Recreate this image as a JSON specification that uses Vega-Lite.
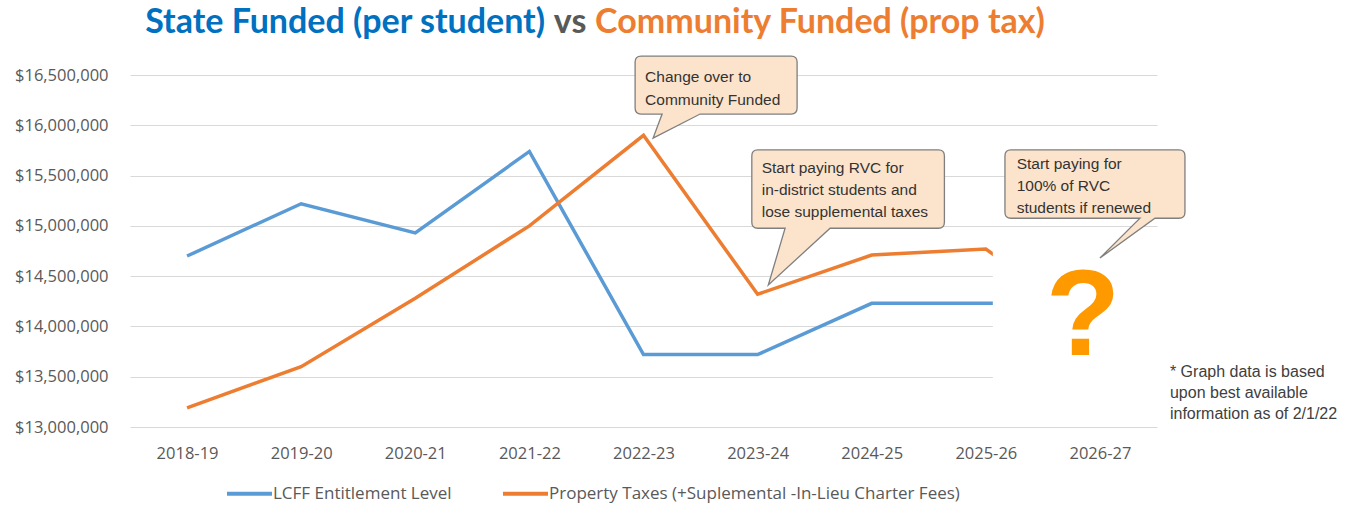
{
  "$schema": "https://vega.github.io/schema/vega-lite/v6.json",
  "width": 1027,
  "height": 352,
  "autosize": {"type": "none"},
  "padding": {"left": 130, "top": 75, "right": 196, "bottom": 79},
  "background": "white",
  "config": {"view": {"stroke": null}, "font": "Open Sans"},
  "layer": [
    {
      "data": {"values": [
        {"year": "2018-19", "series": "LCFF Entitlement Level", "value": 14700000},
        {"year": "2019-20", "series": "LCFF Entitlement Level", "value": 15220000},
        {"year": "2020-21", "series": "LCFF Entitlement Level", "value": 14930000},
        {"year": "2021-22", "series": "LCFF Entitlement Level", "value": 15740000},
        {"year": "2022-23", "series": "LCFF Entitlement Level", "value": 13720000},
        {"year": "2023-24", "series": "LCFF Entitlement Level", "value": 13720000},
        {"year": "2024-25", "series": "LCFF Entitlement Level", "value": 14230000},
        {"year": "2025-26", "series": "LCFF Entitlement Level", "value": 14230000},
        {"year": "2026-27", "series": "LCFF Entitlement Level", "value": 14230000},
        {"year": "2018-19", "series": "Property Taxes (+Suplemental -In-Lieu Charter Fees)", "value": 13190000},
        {"year": "2019-20", "series": "Property Taxes (+Suplemental -In-Lieu Charter Fees)", "value": 13600000},
        {"year": "2020-21", "series": "Property Taxes (+Suplemental -In-Lieu Charter Fees)", "value": 14280000},
        {"year": "2021-22", "series": "Property Taxes (+Suplemental -In-Lieu Charter Fees)", "value": 15000000},
        {"year": "2022-23", "series": "Property Taxes (+Suplemental -In-Lieu Charter Fees)", "value": 15900000},
        {"year": "2023-24", "series": "Property Taxes (+Suplemental -In-Lieu Charter Fees)", "value": 14320000},
        {"year": "2024-25", "series": "Property Taxes (+Suplemental -In-Lieu Charter Fees)", "value": 14710000},
        {"year": "2025-26", "series": "Property Taxes (+Suplemental -In-Lieu Charter Fees)", "value": 14770000},
        {"year": "2026-27", "series": "Property Taxes (+Suplemental -In-Lieu Charter Fees)", "value": 13950000}
      ]},
      "mark": {"type": "line", "strokeWidth": 3.5, "strokeJoin": "miter"},
      "encoding": {
        "x": {
          "field": "year", "type": "ordinal",
          "scale": {"type": "point", "padding": 0.5, "domain": ["2018-19","2019-20","2020-21","2021-22","2022-23","2023-24","2024-25","2025-26","2026-27"]},
          "axis": {"title": null, "domain": false, "ticks": false, "grid": false, "labelAngle": 0, "labelFont": "Open Sans", "labelFontSize": 16.5, "labelColor": "#595959", "labelPadding": 18}
        },
        "y": {
          "field": "value", "type": "quantitative",
          "scale": {"domain": [13000000, 16500000], "zero": false, "nice": false},
          "axis": {"title": null, "values": [13000000,13500000,14000000,14500000,15000000,15500000,16000000,16500000], "format": "$,.0f", "domain": false, "ticks": false, "grid": true, "gridColor": "#D9D9D9", "gridWidth": 1.2, "labelFont": "Open Sans", "labelFontSize": 16.5, "labelColor": "#595959", "labelPadding": 22}
        },
        "color": {
          "field": "series", "type": "nominal",
          "scale": {"domain": ["LCFF Entitlement Level", "Property Taxes (+Suplemental -In-Lieu Charter Fees)"], "range": ["#5B9BD5", "#ED7D31"]},
          "legend": {"title": null, "orient": "none", "legendX": 95, "legendY": 394, "direction": "horizontal", "symbolType": "stroke", "symbolSize": 2025, "symbolStrokeWidth": 4, "labelFont": "Open Sans", "labelFontSize": 17, "labelColor": "#595959", "labelOffset": -1, "columnPadding": 43, "labelLimit": 600, "padding": 0}
        }
      }
    },
    {
      "data": {"values": [{}]},
      "mark": {"type": "rect", "fill": "white", "xOffset": 7, "x2Offset": 62},
      "encoding": {
        "x": {"datum": "2025-26", "type": "ordinal"},
        "x2": {"datum": "2026-27"},
        "y": {"datum": 14950000, "type": "quantitative"},
        "y2": {"datum": 13280000}
      }
    },
    {
      "data": {"values": [
        {"year": "2022-23", "value": 15900000, "id": "c1"},
        {"year": "2023-24", "value": 14320000, "id": "c2"},
        {"year": "2026-27", "value": 14680000, "id": "c3"}
      ]},
      "mark": {"type": "point", "size": 4, "filled": true, "fill": "#FCE4CC", "stroke": "#7F7F7F", "strokeWidth": 1.3, "opacity": 1},
      "encoding": {
        "x": {"field": "year", "type": "ordinal"},
        "y": {"field": "value", "type": "quantitative"},
        "shape": {
          "field": "id", "type": "nominal", "legend": null,
          "scale": {"domain": ["c1", "c2", "c3"], "range": [
            "M-2.4,-79.3H147.6Q153.6,-79.3,153.6,-73.3V-27.3Q153.6,-21.3,147.6,-21.3H56.6L9.6,2.7L18.6,-21.3H-2.4Q-8.4,-21.3,-8.4,-27.3V-73.3Q-8.4,-79.3,-2.4,-79.3Z",
            "M0.2,-144.3H180.8Q186.8,-144.3,186.8,-138.3V-72Q186.8,-66,180.8,-66H72.5L10.7,-9.3L27.5,-66H0.2Q-5.8,-66,-5.8,-72V-138.3Q-5.8,-144.3,0.2,-144.3Z",
            "M-89,-108.1H79Q85,-108.1,85,-102.1V-45.8Q85,-39.8,79,-39.8H55L0,0L40,-39.8H-89Q-95,-39.8,-95,-45.8V-102.1Q-95,-108.1,-89,-108.1Z"
          ]}
        }
      }
    },
    {
      "data": {"values": [{"year": "2022-23", "value": 15900000, "label": "Change over to\nCommunity Funded"}]},
      "mark": {"type": "text", "align": "left", "baseline": "alphabetic", "dx": 1.6, "dy": -53.8, "lineBreak": "\n", "lineHeight": 23, "font": "Liberation Sans", "fontSize": 15.5, "fill": "#333333"},
      "encoding": {
        "x": {"field": "year", "type": "ordinal"},
        "y": {"field": "value", "type": "quantitative"},
        "text": {"field": "label"}
      }
    },
    {
      "data": {"values": [{"year": "2023-24", "value": 14320000, "label": "Start paying RVC for\nin-district students and\nlose supplemental taxes"}]},
      "mark": {"type": "text", "align": "left", "baseline": "alphabetic", "dx": 4.1, "dy": -121, "lineBreak": "\n", "lineHeight": 21.7, "font": "Liberation Sans", "fontSize": 15.5, "fill": "#333333"},
      "encoding": {
        "x": {"field": "year", "type": "ordinal"},
        "y": {"field": "value", "type": "quantitative"},
        "text": {"field": "label"}
      }
    },
    {
      "data": {"values": [{"year": "2026-27", "value": 14680000, "label": "Start paying for\n100% of RVC\nstudents if renewed"}]},
      "mark": {"type": "text", "align": "left", "baseline": "alphabetic", "dx": -83.3, "dy": -88.8, "lineBreak": "\n", "lineHeight": 21.7, "font": "Liberation Sans", "fontSize": 15.5, "fill": "#333333"},
      "encoding": {
        "x": {"field": "year", "type": "ordinal"},
        "y": {"field": "value", "type": "quantitative"},
        "text": {"field": "label"}
      }
    },
    {
      "data": {"values": [{"year": "2026-27", "value": 14680000, "label": "?"}]},
      "mark": {"type": "text", "align": "center", "baseline": "alphabetic", "dx": -17, "dy": 97, "font": "Liberation Sans", "fontWeight": "bold", "fontSize": 122, "fill": "#FF9900"},
      "encoding": {
        "x": {"field": "year", "type": "ordinal"},
        "y": {"field": "value", "type": "quantitative"},
        "text": {"field": "label"}
      }
    },
    {
      "data": {"values": [{"year": "2026-27", "value": 13500000, "label": "* Graph data is based\nupon best available\ninformation as of 2/1/22"}]},
      "mark": {"type": "text", "align": "left", "baseline": "alphabetic", "dx": 70, "dy": 0, "lineBreak": "\n", "lineHeight": 21.3, "font": "Liberation Sans", "fontSize": 16, "fill": "#404040"},
      "encoding": {
        "x": {"field": "year", "type": "ordinal"},
        "y": {"field": "value", "type": "quantitative"},
        "text": {"field": "label"}
      }
    },
    {
      "data": {"values": [{"label": "State Funded (per student)"}]},
      "mark": {"type": "text", "align": "right", "baseline": "alphabetic", "dx": 15.7, "font": "Lato", "fontWeight": "bold", "fontSize": 34, "fill": "#0070C0"},
      "encoding": {
        "x": {"datum": "2021-22", "type": "ordinal"},
        "y": {"datum": 16915000, "type": "quantitative"},
        "text": {"field": "label"}
      }
    },
    {
      "data": {"values": [{"label": "vs"}]},
      "mark": {"type": "text", "align": "center", "baseline": "alphabetic", "dx": 40.7, "font": "Lato", "fontWeight": "bold", "fontSize": 34, "fill": "#595959"},
      "encoding": {
        "x": {"datum": "2021-22", "type": "ordinal"},
        "y": {"datum": 16915000, "type": "quantitative"},
        "text": {"field": "label"}
      }
    },
    {
      "data": {"values": [{"label": "Community Funded (prop tax)"}]},
      "mark": {"type": "text", "align": "left", "baseline": "alphabetic", "dx": -48.4, "font": "Lato", "fontWeight": "bold", "fontSize": 34, "fill": "#ED7D31"},
      "encoding": {
        "x": {"datum": "2022-23", "type": "ordinal"},
        "y": {"datum": 16915000, "type": "quantitative"},
        "text": {"field": "label"}
      }
    }
  ]
}
